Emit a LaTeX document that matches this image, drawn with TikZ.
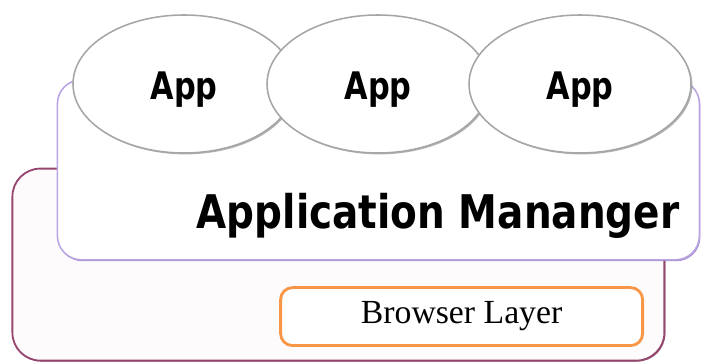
\documentclass[tikz,border=0pt]{standalone}
\usepackage{fontspec}
\setmainfont{Liberation Serif}
\newfontfamily\appfont[FakeStretch=0.8]{DejaVu Sans}
\newfontfamily\mgrfont[FakeStretch=0.84]{DejaVu Sans}
\usetikzlibrary{shapes.geometric, shadows, positioning}
\definecolor{brwline}{RGB}{150,70,110}
\definecolor{brwfill}{RGB}{254,251,253}
\definecolor{mgrline}{RGB}{185,165,228}
\definecolor{mgrshade}{RGB}{140,110,190}
\definecolor{layline}{RGB}{247,150,70}
\tikzset{
  browser/.style = {draw=brwline, fill=brwfill, rounded corners=0.7cm,
                    line width=1.3pt, inner sep=0pt, outer sep=0pt,
                    minimum width=16.3cm, minimum height=4.8cm,
                    drop shadow={shadow xshift=0.7pt, shadow yshift=-0.7pt,
                                 fill=brwline!70!black, opacity=0.7}},
  manager/.style = {draw=mgrline, fill=white, rounded corners=0.6cm,
                    line width=1.1pt, inner sep=0pt, outer sep=0pt,
                    minimum width=16.05cm, minimum height=4.5cm,
                    drop shadow={shadow xshift=0.7pt, shadow yshift=-1pt,
                                 fill=mgrshade, opacity=0.8}},
  app/.style     = {draw=black!35, ellipse, fill=white, line width=1.1pt,
                    minimum width=5.55cm, minimum height=3.45cm, inner sep=0pt,
                    text height=1cm, text depth=0.2cm,
                    font=\appfont\bfseries\fontsize{27}{31}\selectfont,
                    drop shadow={shadow xshift=1pt, shadow yshift=-1pt,
                                 fill=black!50, opacity=0.6}},
  layer/.style   = {draw=layline, fill=white, rounded corners=0.3cm,
                    line width=2pt, minimum width=9.05cm, minimum height=1.45cm,
                    inner sep=0pt, font=\fontsize{24}{28}\selectfont}
}
\begin{document}
\begin{tikzpicture}
\useasboundingbox (0,0) rectangle (17.55,9.075);

\node[browser] at ( 8.46, 2.46) (brw)  {};
\node[manager] at ( 9.46, 4.83) (mgr)  {};
\node[app]     at ( 4.60, 6.975) (app1) {App};
\node[app]     at ( 9.45, 6.975) (app2) {App};
\node[app]     at (14.50, 6.975) (app3) {App};

\node[anchor=base, font=\mgrfont\bfseries\fontsize{33}{37}\selectfont]
      at (10.95, 3.35) (mgrtext) {Application Mananger};
\node[layer]   at (11.54, 1.16) (brwlayer) {Browser Layer};
\end{tikzpicture}
\end{document}
